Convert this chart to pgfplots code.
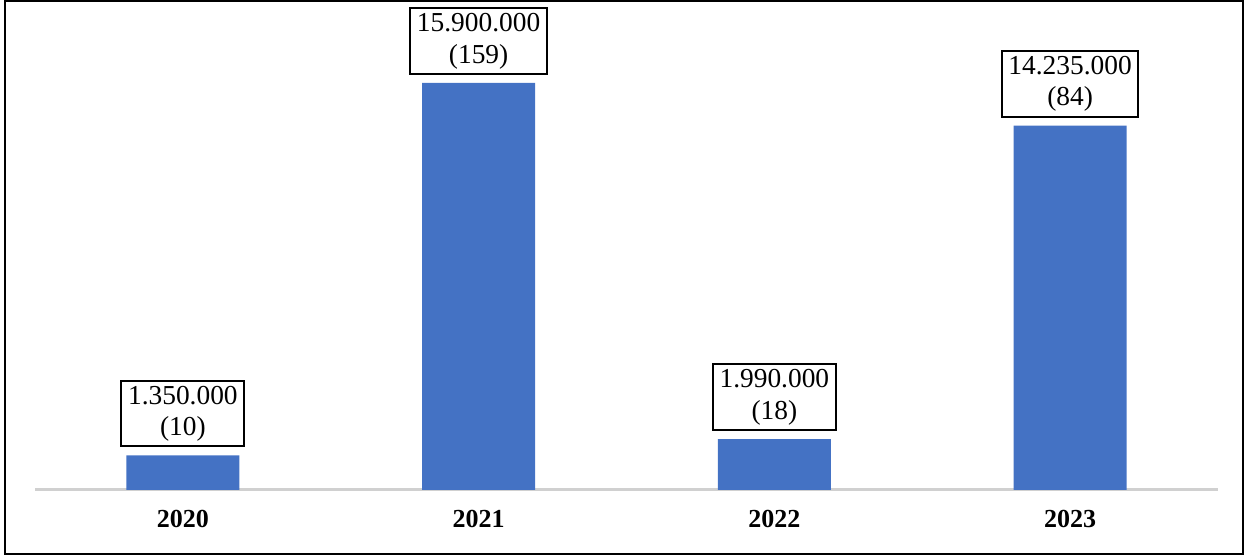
\documentclass[border=0pt]{standalone}
\usepackage{fontspec}
\setmainfont{Liberation Serif}
\usepackage{pgfplots}
\pgfplotsset{compat=1.18}
\definecolor{barblue}{HTML}{4472C4}
\definecolor{axgrey}{HTML}{D0D0D0}
\begin{document}
\begin{tikzpicture}
\useasboundingbox (0,0) rectangle (623.5pt,278pt);
\draw[line width=1pt,black] (2.5pt,1.2pt) rectangle (621.5pt,277.5pt);
\begin{axis}[
  at={(17.5pt,33pt)}, anchor=south west,
  scale only axis, width=591.5pt, height=240pt,
  xmin=-0.5, xmax=3.5, ymin=0, ymax=18.75,
  axis y line=none,
  axis x line*=bottom,
  x axis line style={draw=axgrey, line width=1.5pt, -},
  xtick=data,
  xticklabels={2020,2021,2022,2023},
  xticklabel style={font=\fontsize{13}{15}\selectfont\bfseries, yshift=-6.5pt},
  major tick length=0pt,
  ybar, bar width=56.5pt,
  point meta=explicit symbolic,
  nodes near coords,
  every node near coord/.append style={
    draw=black, line width=1pt, fill=white, align=center,
    font=\fontsize{13.7}{15.8}\selectfont,
    inner xsep=3.3pt, inner ysep=2.5pt, anchor=south, yshift=4pt},
  clip=false,
]
\addplot[fill=barblue, draw=none] coordinates {
  (0,1.35) [{1.350.000\\(10)}]
  (1,15.9) [{15.900.000\\(159)}]
  (2,1.99) [{1.990.000\\(18)}]
  (3,14.235) [{14.235.000\\(84)}]
};
\end{axis}
\end{tikzpicture}
\end{document}
